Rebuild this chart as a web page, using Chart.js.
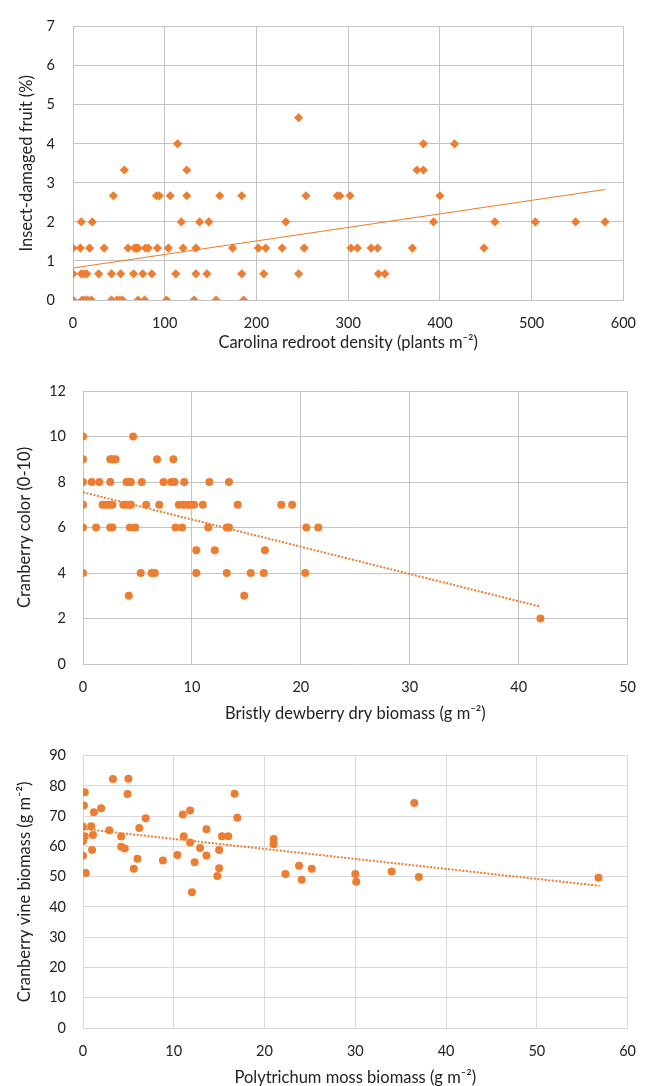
<!DOCTYPE html>
<html>
<head>
<meta charset="utf-8">
<title>Cranberry bog scatter plots</title>
<script src="https://cdn.jsdelivr.net/npm/chart.js@4.4.1/dist/chart.umd.min.js"></script>
<style>
    body { margin: 0; background: #fff; }
    .panel { position: absolute; left: 0; width: 651px; }
</style>
</head>
<body>
<div class="panel" style="top:0;height:355px"><canvas id="damage"></canvas></div>
<div class="panel" style="top:355px;height:375px"><canvas id="color"></canvas></div>
<div class="panel" style="top:730px;height:356px"><canvas id="vine"></canvas></div>
<script>
// Chart 1: redroot density vs insect-damaged fruit
const redrootDensity = [
    0, 10, 13, 16, 20, 42, 48, 51, 54, 71, 78, 102, 132, 156, 186,
    0, 9, 12, 15, 28, 42, 52, 66, 76, 86, 112, 134, 146, 184, 208, 246, 333, 340,
    0, 8, 18, 34, 60, 67, 69, 71, 79, 82, 92, 104, 120, 134, 174, 202, 210, 228, 252, 303, 310, 325, 332, 370, 448,
    9, 21, 118, 138, 148, 232, 393, 460, 504, 548, 580,
    44, 91, 94, 106, 124, 160, 184, 254, 288, 291, 302, 400,
    56, 124, 375, 382,
    114, 382, 416,
    246
]
const damagedFruit = [
    0, 0, 0, 0, 0, 0, 0, 0, 0, 0, 0, 0, 0, 0, 0,
    0.67, 0.67, 0.67, 0.67, 0.67, 0.67, 0.67, 0.67, 0.67, 0.67, 0.67, 0.67, 0.67, 0.67, 0.67, 0.67, 0.67, 0.67,
    1.33, 1.33, 1.33, 1.33, 1.33, 1.33, 1.33, 1.33, 1.33, 1.33, 1.33, 1.33, 1.33, 1.33, 1.33, 1.33, 1.33, 1.33, 1.33, 1.33, 1.33, 1.33, 1.33, 1.33, 1.33,
    2, 2, 2, 2, 2, 2, 2, 2, 2, 2, 2,
    2.67, 2.67, 2.67, 2.67, 2.67, 2.67, 2.67, 2.67, 2.67, 2.67, 2.67, 2.67,
    3.33, 3.33, 3.33, 3.33,
    4, 4, 4,
    4.67
]
const damageTrendX = [0, 580]
const damageTrendY = [0.82, 2.83]

// Chart 2: dewberry biomass vs cranberry color
const dewberryBiomass = [
    0, 4.6,
    0, 2.5, 2.7, 3.0, 6.8, 8.3,
    0, 0.8, 1.5, 2.5, 4.0, 4.2, 4.4, 5.4, 7.4, 8.1, 8.4, 9.3, 11.6, 13.4,
    0, 1.8, 2.1, 2.4, 2.7, 3.7, 4.0, 4.3, 4.4, 5.8, 7.0, 8.8, 9.2, 9.6, 9.9, 10.2, 11.0, 14.2, 18.2, 19.2,
    0, 1.2, 2.5, 2.7, 4.3, 4.8, 8.5, 9.1, 11.5, 13.2, 13.4, 20.5, 21.6,
    10.4, 12.1, 16.7,
    0, 5.3, 6.3, 6.6, 10.4, 13.2, 15.4, 16.6, 20.4,
    4.2, 14.8,
    42
]
const berryColor = [
    10, 10,
    9, 9, 9, 9, 9, 9,
    8, 8, 8, 8, 8, 8, 8, 8, 8, 8, 8, 8, 8, 8,
    7, 7, 7, 7, 7, 7, 7, 7, 7, 7, 7, 7, 7, 7, 7, 7, 7, 7, 7, 7,
    6, 6, 6, 6, 6, 6, 6, 6, 6, 6, 6, 6, 6,
    5, 5, 5,
    4, 4, 4, 4, 4, 4, 4, 4, 4,
    3, 3,
    2
]
const colorTrendX = [0, 42]
const colorTrendY = [7.55, 2.52]

// Chart 3: moss biomass vs vine biomass
const mossBiomass = [
    0.1, 0.2, 3.3, 5.0, 4.9, 2.0, 1.2, 0.0, 0.9, 0.2, 1.1, 0.0, 2.9, 4.2, 4.2, 4.6,
    1.0, 0.0, 6.2, 6.9, 6.0, 5.6, 0.3, 8.8, 10.4, 11.0, 11.8, 11.1, 11.8, 12.0, 12.3,
    12.9, 13.6, 13.6, 15.0, 15.0, 14.8, 15.3, 16.0, 16.7, 17.0, 21.0, 21.0, 22.3,
    23.8, 24.1, 25.2, 30.0, 30.1, 34.0, 36.5, 37.0, 56.8
]
const vineBiomass = [
    73.5, 77.9, 82.3, 82.4, 77.3, 72.6, 71.3, 66.5, 66.7, 63.4, 63.8, 61.8, 65.4, 63.3, 59.9, 59.3,
    58.8, 56.9, 66.1, 69.3, 55.9, 52.6, 51.2, 55.4, 57.2, 70.6, 71.9, 63.4, 61.3, 44.9, 54.8,
    59.5, 57.0, 65.7, 58.8, 52.8, 50.2, 63.4, 63.4, 77.4, 69.5, 62.5, 60.7, 50.9,
    53.6, 49.0, 52.6, 50.9, 48.3, 51.7, 74.4, 49.9, 49.7
]
const vineTrendX = [0, 56.9]
const vineTrendY = [65.8, 47.0]

const ORANGE = "#ED7D31"
const TEXT = "#222222"
const FONT = "Lato, 'Open Sans', sans-serif"

/**
 * zip two arrays into chart points
 * @param {Number[]} xs
 * @param {Number[]} ys
 * @returns {{x:Number, y:Number}[]}
 */
function points(xs, ys) {
    return xs.map((x, i) => ({ x, y: ys[i] }))
}

/**
 * Build one scatter panel with its trend line
 * @param {string} id canvas id
 * @param {Object} opt
 */
function scatterPanel(id, opt) {
    const ctx = document.getElementById(id)
    const lineDash = opt.dotted ? [2, 1.6] : []
    const titleFont = { family: FONT, size: 16.5, lineHeight: 1 }
    new Chart(ctx, {
        type: "scatter",
        data: {
            datasets: [
                {
                    data: points(opt.trendX, opt.trendY),
                    showLine: true,
                    borderColor: ORANGE,
                    borderWidth: opt.dotted ? 2 : 1.2,
                    borderDash: lineDash,
                    pointRadius: 0,
                    fill: false
                },
                {
                    data: points(opt.xs, opt.ys),
                    pointStyle: opt.shape,
                    pointRadius: opt.radius,
                    pointBackgroundColor: ORANGE,
                    pointBorderColor: ORANGE,
                    pointBorderWidth: 0
                }
            ]
        },
        options: {
            responsive: true,
            maintainAspectRatio: false,
            animation: false,
            layout: { padding: { top: opt.padTop, right: opt.padRight, left: 0, bottom: 0 } },
            plugins: { legend: { display: false }, tooltip: { enabled: false } },
            scales: {
                x: {
                    type: "linear",
                    min: opt.xRange[0],
                    max: opt.xRange[1],
                    grid: { color: opt.gridColor, drawTicks: false },
                    border: { color: opt.gridColor },
                    ticks: { stepSize: opt.xRange[2], padding: 15, color: TEXT, font: { family: FONT, size: 14.5 } },
                    title: {
                        display: true,
                        text: opt.xTitle,
                        color: TEXT,
                        font: titleFont,
                        padding: { top: 0, bottom: opt.xTitlePad }
                    },
                    afterFit: scale => { scale.height = opt.xHeight }
                },
                y: {
                    type: "linear",
                    min: opt.yRange[0],
                    max: opt.yRange[1],
                    grid: { color: opt.gridColor, drawTicks: false },
                    border: { color: opt.gridColor },
                    ticks: { stepSize: opt.yRange[2], padding: opt.yTickPad, color: TEXT, font: { family: FONT, size: 14.5 } },
                    title: {
                        display: true,
                        text: opt.yTitle,
                        color: TEXT,
                        font: titleFont,
                        padding: { top: opt.yTitlePad, bottom: 0 }
                    },
                    afterFit: scale => { scale.width = opt.yWidth }
                }
            }
        }
    })
}

function main() {
    scatterPanel("damage", {
        xs: redrootDensity, ys: damagedFruit,
        trendX: damageTrendX, trendY: damageTrendY,
        shape: "rectRot", radius: 4.6, dotted: false,
        xRange: [0, 600, 100], yRange: [0, 7, 1],
        xTitle: "Carolina redroot density (plants m\u207B\u00B2)",
        yTitle: "Insect-damaged fruit (%)",
        gridColor: "#c4c4c4",
        padTop: 21, padRight: 21, yWidth: 73, xHeight: 55,
        xTitlePad: 4.5, yTickPad: 18, yTitlePad: 18
    })
    scatterPanel("color", {
        xs: dewberryBiomass, ys: berryColor,
        trendX: colorTrendX, trendY: colorTrendY,
        shape: "circle", radius: 4, dotted: true,
        xRange: [0, 50, 10], yRange: [0, 12, 2],
        xTitle: "Bristly dewberry dry biomass (g m\u207B\u00B2)",
        yTitle: "Cranberry color (0-10)",
        gridColor: "#c4c4c4",
        padTop: 36, padRight: 19, yWidth: 83, xHeight: 66,
        xTitlePad: 8.5, yTickPad: 17, yTitlePad: 16.5
    })
    scatterPanel("vine", {
        xs: mossBiomass, ys: vineBiomass,
        trendX: vineTrendX, trendY: vineTrendY,
        shape: "circle", radius: 4, dotted: true,
        xRange: [0, 60, 10], yRange: [0, 90, 10],
        xTitle: "Polytrichum moss biomass (g m\u207B\u00B2)",
        yTitle: "Cranberry vine biomass (g m\u207B\u00B2)",
        gridColor: "#d9d9d9",
        padTop: 22, padRight: 11, yWidth: 83, xHeight: 58,
        xTitlePad: 0, yTickPad: 17, yTitlePad: 16.5
    })
}

window.onload = main
</script>
</body>
</html>
